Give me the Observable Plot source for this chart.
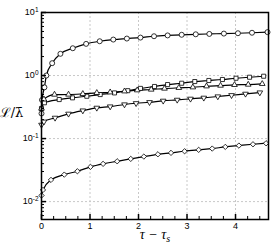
<!DOCTYPE html>
<html><head><meta charset="utf-8">
<script src="https://cdn.jsdelivr.net/npm/d3@7"></script>
<script src="https://cdn.jsdelivr.net/npm/@observablehq/plot@0.6"></script>
<style>body{margin:0;background:#fff}</style>
</head><body><div id="chart"></div>
<script>
// Series data (time tau - tau_s, value L/lambda-bar)
const circleT = [0, 0.01, 0.06, 0.10, 0.22, 0.39, 0.645, 0.92, 1.20, 1.48, 1.76, 2.04, 2.32, 2.60, 2.89, 3.18, 3.46, 3.76, 4.05, 4.34, 4.66];
const circleV = [0.25, 0.41, 0.65, 1.0, 1.57, 2.21, 2.71, 3.18, 3.50, 3.72, 3.86, 4.0, 4.2, 4.33, 4.43, 4.51, 4.57, 4.63, 4.69, 4.77, 4.88];

const squareT = [0, 0.06, 0.365, 0.639, 0.934, 1.21, 1.505, 1.779, 2.04, 2.33, 2.60, 2.89, 3.16, 3.45, 3.73, 4.01, 4.29, 4.58];
const squareV = [0.30, 0.37, 0.416, 0.443, 0.469, 0.499, 0.53, 0.575, 0.625, 0.67, 0.719, 0.755, 0.803, 0.834, 0.865, 0.906, 0.94, 0.975];

const triangleT = [0, 0.05, 0.268, 0.557, 0.852, 1.14, 1.416, 1.711, 1.973, 2.262, 2.536, 2.831, 3.12, 3.402, 3.691, 3.979, 4.262, 4.551];
const triangleV = [0.30, 0.42, 0.499, 0.50, 0.512, 0.531, 0.543, 0.563, 0.585, 0.600, 0.622, 0.638, 0.652, 0.676, 0.693, 0.711, 0.719, 0.738];

const invTriT = [0, 0.05, 0.28, 0.557, 0.852, 1.14, 1.416, 1.711, 1.95, 2.227, 2.509, 2.798, 3.072, 3.346, 3.635, 3.918, 4.206, 4.501];
const invTriV = [0.165, 0.185, 0.213, 0.247, 0.278, 0.307, 0.322, 0.347, 0.363, 0.377, 0.397, 0.411, 0.427, 0.443, 0.465, 0.487, 0.512, 0.537];

const diamondT = [0, 0.03, 0.196, 0.47, 0.74, 1.01, 1.27, 1.56, 1.84, 2.11, 2.40, 2.67, 2.95, 3.24, 3.52, 3.79, 4.07, 4.36, 4.63];
const diamondV = [0.0125, 0.0153, 0.0221, 0.0268, 0.0303, 0.0356, 0.0397, 0.0436, 0.0476, 0.0518, 0.0563, 0.0593, 0.0629, 0.0662, 0.0694, 0.0738, 0.0774, 0.0812, 0.0842];

// Ticks
const xMajor = [0, 1, 2, 3, 4];
const xMinor = [0.25, 0.5, 0.75, 1.25, 1.5, 1.75, 2.25, 2.5, 2.75, 3.25, 3.5, 3.75, 4.25, 4.5];
const xGrid = [1, 2, 3, 4];
const yMajor = [0.01, 0.1, 1, 10];
const yMinor = [0.006, 0.007, 0.008, 0.009, 0.02, 0.03, 0.04, 0.05, 0.06, 0.07, 0.08, 0.09,
                0.2, 0.3, 0.4, 0.5, 0.6, 0.7, 0.8, 0.9, 2, 3, 4, 5, 6, 7, 8, 9];
const yGrid = [0.01, 0.1, 1];
const xLabel = "τ − τ";
const xLabelSub = "s";
const yLabel = "ℒ/λ̄";

const toRows = (T, V, s) => T.map((t, i) => ({t, v: V[i], s}));
const circles = toRows(circleT, circleV, "circle");
const squares = toRows(squareT, squareV, "square");
const triangles = toRows(triangleT, triangleV, "triangle");
const invTris = toRows(invTriT, invTriV, "invtri");
const diamonds = toRows(diamondT, diamondV, "diamond");

const lineOpts = {x: "t", y: "v", stroke: "black", strokeWidth: 1.2, curve: "monotone-x"};
const dotOpts = {x: "t", y: "v", stroke: "black", fill: "white", strokeWidth: 0.8};

const plot = Plot.plot({
  width: 274, height: 244,
  marginLeft: 41, marginRight: 6, marginTop: 12, marginBottom: 25,
  x: {domain: [0, 4.68]},
  y: {type: "log", domain: [0.0052, 10]},
  style: {fontFamily: "'Liberation Sans', Arial, sans-serif", fontSize: "9px", background: "white", color: "black", overflow: "visible"},
  marks: [
    Plot.gridX(xGrid, {stroke: "#c8c8c8", strokeOpacity: 1, strokeDasharray: "2,2"}),
    Plot.gridY(yGrid, {stroke: "#c8c8c8", strokeOpacity: 1, strokeDasharray: "2,2"}),
    Plot.line(circles, lineOpts),
    Plot.line(squares, lineOpts),
    Plot.line(triangles, lineOpts),
    Plot.line(invTris, lineOpts),
    Plot.line(diamonds, lineOpts),
    Plot.dot(circles, {...dotOpts, symbol: "circle", r: 2.5}),
    Plot.dot(squares, {...dotOpts, symbol: "square", r: 2.3}),
    Plot.dot(triangles, {...dotOpts, symbol: "triangle", r: 2.1}),
    Plot.dot(invTris, {...dotOpts, symbol: "triangle", r: 2.1, rotate: 180}),
    Plot.dot(diamonds, {...dotOpts, symbol: "diamond2", r: 2.4}),
    Plot.axisX(xMinor, {tickSize: -3, tickFormat: () => "", label: null, strokeWidth: 1}),
    Plot.axisX(xMajor, {tickSize: -5, tickFormat: () => "", label: null, strokeWidth: 1.5}),
    Plot.axisX(xMajor, {tickSize: 0, tickPadding: 3, label: null}),
    Plot.axisY(yMinor, {tickSize: -3, tickFormat: () => "", label: null, strokeWidth: 1}),
    Plot.axisY(yMajor, {tickSize: -5, tickFormat: () => "", label: null, strokeWidth: 1.5}),
    Plot.axisY(yMajor, {tickSize: 0, tickPadding: 3, label: null, tickFormat: d => String(Math.round(Math.log10(d)))}),
    Plot.frame({stroke: "black", strokeWidth: 1.5}),
    Plot.text([xLabel], {frameAnchor: "bottom", lineAnchor: "middle", textAnchor: "middle", dy: 15, text: d => d, fontSize: 14, fontStyle: "italic", fontFamily: "'Liberation Serif', serif", className: "xlab"}),
    Plot.text([yLabel], {frameAnchor: "left", lineAnchor: "middle", textAnchor: "middle", dx: -30, dy: -3, text: d => d, fontSize: 13, fontFamily: "'DejaVu Serif', serif", className: "ylab"})
  ]
});
document.getElementById("chart").appendChild(plot);

// superscript exponents on y tick labels (only the labelled axis)
d3.select(plot).selectAll('g[aria-label="y-axis tick label"] text').each(function() {
  const e = this.textContent;
  if (e === "") return;
  const sel = d3.select(this);
  sel.text("10");
  sel.append("tspan").attr("dy", "-0.5em").attr("font-size", "6.5px").text(e);
});
// subscript on x label
d3.select(plot).selectAll('.xlab text').each(function() {
  const sel = d3.select(this);
  sel.attr("text-anchor", "middle");
  sel.append("tspan").attr("dy", "0.3em").attr("font-size", "10px").text(xLabelSub);
});
d3.select(plot).selectAll('.ylab text').attr("text-anchor", "middle");
</script>
</body></html>
